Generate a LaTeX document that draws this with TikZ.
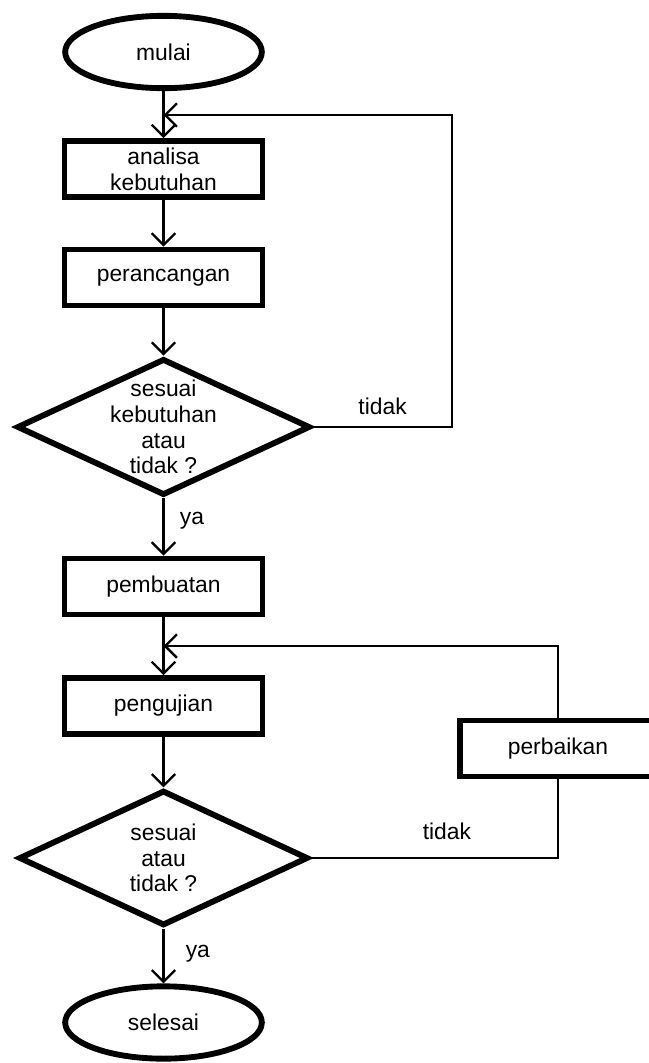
\documentclass[tikz,border=0pt]{standalone}
\usepackage{amsmath}
\usepackage{xcolor}
\usepackage{fontspec}
\setmainfont{Liberation Sans}
\usetikzlibrary{shapes.geometric,arrows.meta}

\begin{document}
\begin{tikzpicture}[x=0.03cm,y=-0.03cm,
  every node/.style={font=\fontsize{19.5}{22}\selectfont},
  proses/.style={draw,line width=5pt,minimum width=5.94cm,minimum height=1.68cm,inner sep=0pt,align=center},
  terminal/.style={draw,ellipse,line width=5pt,minimum width=5.9cm,minimum height=2.17cm,inner sep=0pt},
  keputusan/.style={draw,diamond,line width=5pt,aspect=2.15,inner sep=-3pt,align=center},
  alur/.style={line width=2pt,-{Straight Barb[length=10pt,width=20pt]}},
  garis/.style={line width=2pt},
  ket/.style={inner sep=0pt}]
\useasboundingbox (0,0) rectangle (649,1063);
\node[terminal] (mulai) at (163.5,52) {mulai};
\node[proses] (analisa) at (163.5,169) {analisa\\kebutuhan};
\node[proses] (rancang) at (163.5,277.5) {perancangan};
\node[keputusan,minimum width=8.8cm,minimum height=4.1cm] (cek1) at (163.5,427) {sesuai\\kebutuhan\\atau\\tidak ?};
\node[proses] (buat) at (163.5,586.5) {pembuatan};
\node[proses] (uji) at (163.5,706) {pengujian};
\node[proses,minimum width=5.88cm] (baiki) at (558,748.5) {perbaikan};
\node[keputusan,minimum width=8.68cm,minimum height=4.06cm] (cek2) at (163.5,858) {sesuai\\atau\\tidak ?};
\node[terminal] (selesai) at (163.5,1022.5) {selesai};

\coordinate (balik1) at (163.5,115);
\coordinate (sudut1) at (452,115);
\coordinate (balik2) at (163.5,646);

\draw[alur] (mulai) -- (analisa);
\draw[alur] (analisa) -- (rancang);
\draw[alur] (rancang) -- (cek1);
\draw[alur] (cek1) -- node[ket,right=13pt,pos=0.4] {ya} (buat);
\draw[alur] (cek1.east) -- node[ket,above=9.4pt] {tidak} (cek1.east -| sudut1) -- (sudut1) -- (balik1);
\draw[alur] (buat) -- (uji);
\draw[alur] (uji) -- (cek2);
\draw[garis] (cek2.east) -- node[ket,above=14.5pt,pos=0.55] {tidak} (cek2.east -| baiki.south) -- (baiki.south);
\draw[alur] (baiki.north) |- (balik2);
\draw[alur] (cek2) -- node[ket,right=18pt,pos=0.45] {ya} (selesai);
\end{tikzpicture}
\end{document}
